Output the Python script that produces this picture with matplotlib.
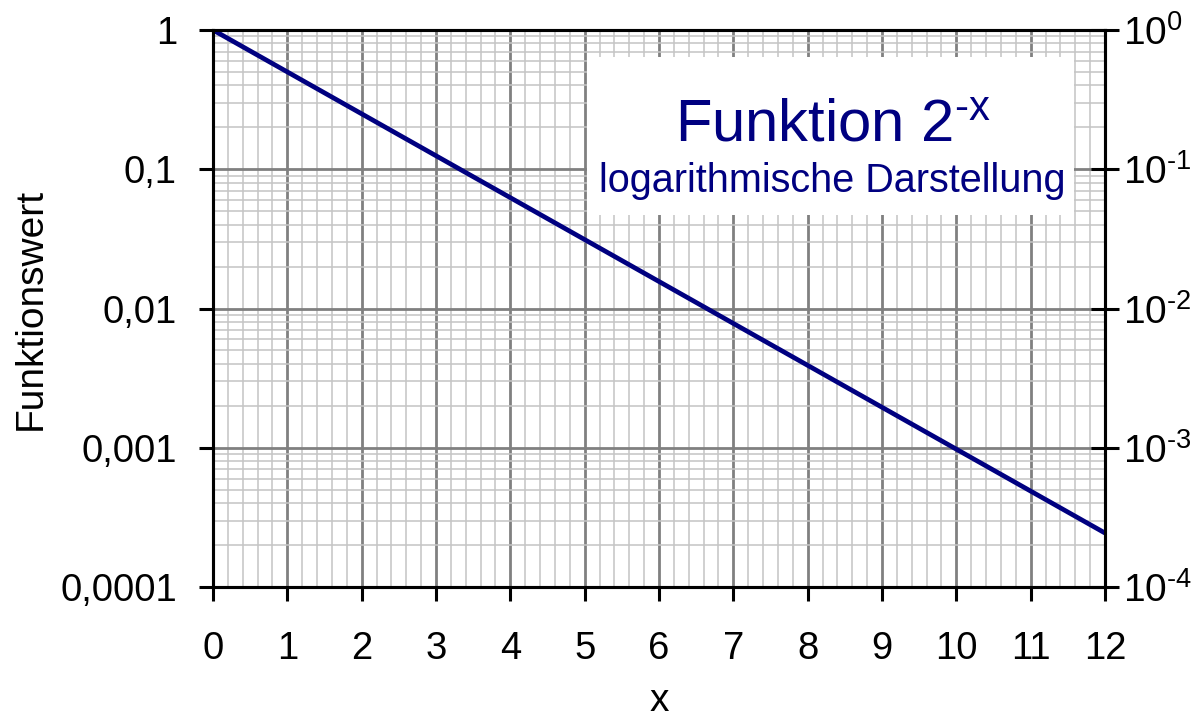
import matplotlib
matplotlib.use('Agg')
import matplotlib.pyplot as plt
from matplotlib.patches import Rectangle
from matplotlib.ticker import FixedLocator, MultipleLocator, LogLocator, NullFormatter

plt.rcParams['font.family'] = ['Liberation Sans', 'DejaVu Sans']
plt.rcParams['mathtext.fontset'] = 'custom'
plt.rcParams['mathtext.rm'] = 'Liberation Sans'

# data: 2^-x read at integer x
x_vals = [0, 1, 2, 3, 4, 5, 6, 7, 8, 9, 10, 11, 12]
y_vals = [1.0, 0.5, 0.25, 0.125, 0.0625, 0.03125, 0.015625, 0.0078125,
          0.00390625, 0.001953, 0.0009766, 0.0004883, 0.0002441]

x_ticks = list(range(0, 13))
y_ticks = [1e-4, 1e-3, 1e-2, 1e-1, 1]
y_left_labels = ['0,0001', '0,001', '0,01', '0,1', '1']
y_right_labels = [r'$\mathregular{10^{\text{-}4}}$', r'$\mathregular{10^{\text{-}3}}$',
                  r'$\mathregular{10^{\text{-}2}}$', r'$\mathregular{10^{\text{-}1}}$',
                  r'$\mathregular{10^{0}}$']

navy = '#000080'

fig = plt.figure(figsize=(11.93, 7.2), dpi=100)
ax = fig.add_axes([213 / 1193, 1 - 587 / 720, 892 / 1193, 557 / 720])

ax.set_yscale('log')
ax.set_xlim(0, 12)
ax.set_ylim(1e-4, 1)

# grid
ax.xaxis.set_major_locator(FixedLocator(x_ticks))
ax.xaxis.set_minor_locator(MultipleLocator(0.2))
ax.yaxis.set_major_locator(FixedLocator(y_ticks))
ax.yaxis.set_minor_locator(LogLocator(base=10, subs=range(2, 10), numticks=20))
ax.yaxis.set_minor_formatter(NullFormatter())
ax.grid(which='major', color='#808080', linewidth=2.0)
ax.grid(which='minor', color='#c4c4c4', linewidth=1.1)

ax.set_yticklabels(y_left_labels)
ax.set_xticklabels([str(v) for v in x_ticks])
ax.tick_params(which='major', length=10, width=2.2, labelsize=27.5, color='black')
ax.tick_params(axis='y', which='major', pad=16)
ax.tick_params(axis='x', which='major', pad=22)
ax.tick_params(which='minor', length=0)

for s in ax.spines.values():
    s.set_linewidth(2.2)
    s.set_color('black')

ax.plot(x_vals, y_vals, color=navy, linewidth=3.4, zorder=4, solid_capstyle='butt')

# label box
ax.add_patch(Rectangle((0.419, 0.668), 0.546, 0.284, transform=ax.transAxes,
                       facecolor='white', edgecolor='none', zorder=3))

ax.set_xlabel('x', fontsize=28, labelpad=11)
ax.set_ylabel('Funktionswert', fontsize=28, labelpad=8)

# right axis
ax2 = ax.twinx()
ax2.set_yscale('log')
ax2.set_ylim(1e-4, 1)
ax2.yaxis.set_major_locator(FixedLocator(y_ticks))
ax2.yaxis.set_minor_locator(FixedLocator([]))
ax2.set_yticklabels(y_right_labels)
ax2.tick_params(axis='y', which='major', direction='inout', length=20, width=2.2,
                labelsize=28, pad=3)
for s in ax2.spines.values():
    s.set_linewidth(2.2)

fig.text(833 / 1193, 1 - 142 / 720, r'Funktion $\mathregular{2^{\text{-}x}}$',
         ha='center', va='baseline', fontsize=43, color=navy)
fig.text(832 / 1193, 1 - 192 / 720, 'logarithmische Darstellung',
         ha='center', va='baseline', fontsize=28.5, color=navy)

fig.savefig('out.png', dpi=100)
